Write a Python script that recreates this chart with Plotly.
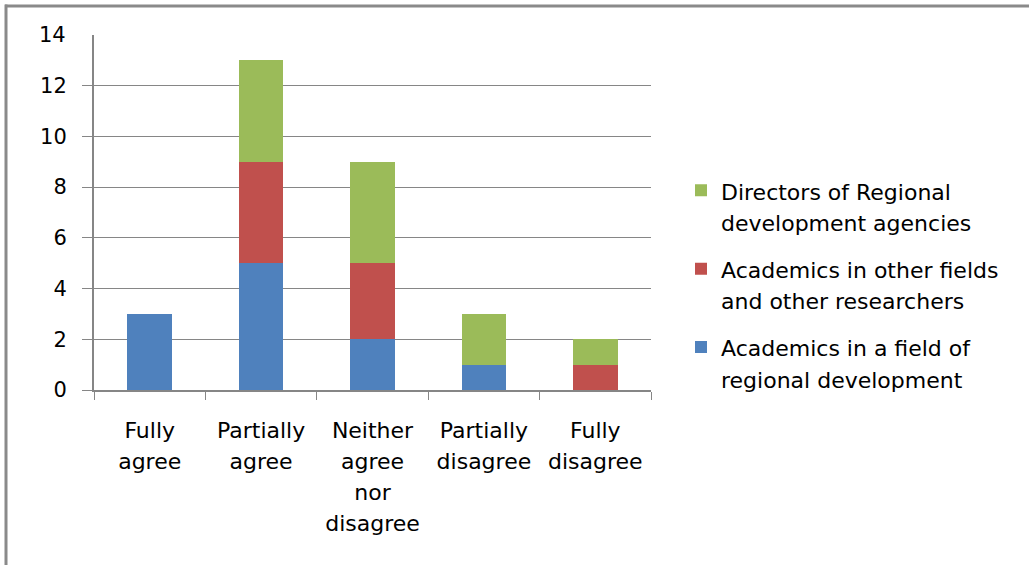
import plotly.graph_objects as go

categories = ["Fully<br>agree", "Partially<br>agree", "Neither<br>agree<br>nor<br>disagree",
              "Partially<br>disagree", "Fully<br>disagree"]
academics_regional = [3, 5, 2, 1, 0]
academics_other = [0, 4, 3, 0, 1]
directors_rda = [0, 4, 4, 2, 1]
y_ticks = [0, 2, 4, 6, 8, 10, 12, 14]

series = [
    ("Academics in a field of<br>regional development", academics_regional, "#4F81BD"),
    ("Academics in other fields<br>and other researchers", academics_other, "#C0504D"),
    ("Directors of Regional<br>development agencies", directors_rda, "#9BBB59"),
]

W, H = 1029, 565
L, R, T, B = 94, 651, 34.5, 390.3

FONT = "DejaVu Sans"
GLYPH = 22      # visible glyph size
LINE = 24       # base size that sets the spacing between wrapped lines
grey = "#868686"


def small(text):
    # keep wrapped lines loosely spaced while drawing the glyphs at GLYPH px
    return "<br>".join(f"<span style='font-size:{GLYPH}px'>{part}</span>"
                       for part in text.split("<br>"))


fig = go.Figure()
for i, (name, vals, color) in enumerate(series):
    # top segment of the stack is listed first in the legend
    fig.add_trace(go.Bar(x=categories, y=vals, name=small(name), marker_color=color,
                         marker_line_width=0, width=0.4, legendgroup=f"g{i}",
                         legendrank=1000 - i))


def px_x(p):
    return (p - L) / (R - L)


def px_y(p):
    return (B - p) / (B - T)


fig.update_layout(
    width=W, height=H,
    margin=dict(l=L, r=W - R, t=T, b=H - B),
    barmode="stack",
    plot_bgcolor="white", paper_bgcolor="white",
    font=dict(family=FONT, size=GLYPH, color="#000000"),
    showlegend=True,
    legend=dict(traceorder="grouped", x=px_x(681), y=px_y(168),
                xanchor="left", yanchor="top", valign="top",
                font=dict(size=LINE, family=FONT), tracegroupgap=13,
                bgcolor="rgba(0,0,0,0)"),
    xaxis=dict(showline=True, linecolor=grey, linewidth=2, ticks="outside", tickson="boundaries",
               ticklen=8, tickcolor=grey, tickwidth=1, showgrid=False,
               tickvals=categories, ticktext=[small(c) for c in categories],
               tickfont=dict(size=LINE, family=FONT), ticklabelstandoff=17),
    yaxis=dict(range=[0, 14], tickvals=y_ticks[:-1], showline=True, linecolor=grey, linewidth=2,
               ticks="outside", ticklen=10, tickcolor=grey, tickwidth=1,
               showgrid=True, gridcolor=grey, gridwidth=1, zeroline=False,
               tickfont=dict(size=21, family=FONT), ticklabelstandoff=11),
    annotations=[
        # top value label, drawn without a tick or gridline
        dict(text=str(y_ticks[-1]), xref="paper", yref="y", x=px_x(68), y=y_ticks[-1],
             xanchor="right", yanchor="middle", showarrow=False,
             font=dict(size=21, family=FONT)),
    ],
    shapes=[
        # outer frame of the chart object
        dict(type="line", xref="paper", yref="paper", x0=px_x(6), x1=px_x(6),
             y0=px_y(4), y1=px_y(580), line=dict(color="#8A8A8A", width=3)),
        dict(type="line", xref="paper", yref="paper", x0=px_x(5), x1=px_x(1040),
             y0=px_y(5.5), y1=px_y(5.5), line=dict(color="#8A8A8A", width=3)),
    ],
)

fig.write_html("out.html")
